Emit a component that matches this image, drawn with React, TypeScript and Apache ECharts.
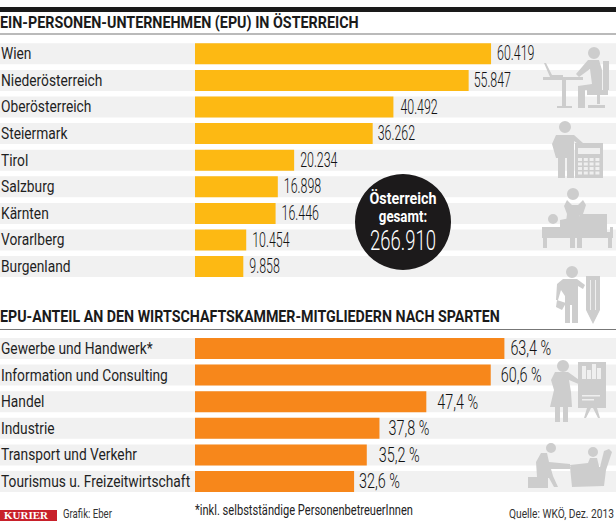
import React, { useEffect, useRef } from "react";
import * as echarts from "echarts";

const regions = ["Wien", "Niederösterreich", "Oberösterreich", "Steiermark", "Tirol", "Salzburg", "Kärnten", "Vorarlberg", "Burgenland"];
const regionValues = [60419, 55847, 40492, 36262, 20234, 16898, 16446, 10454, 9858];
const sectors = ["Gewerbe und Handwerk*", "Information und Consulting", "Handel", "Industrie", "Transport und Verkehr", "Tourismus u. Freizeitwirtschaft"];
const sectorValues = [63.4, 60.6, 47.4, 37.8, 35.2, 32.6];

const regionLabelGaps = [6, 5, 7, 5, 6, 6, 6, 6, 6];
const sectorLabelGaps = [6, 10, 11, 9, 12, 5];

const FONT = 'Roboto, "Liberation Sans", sans-serif';
const ICON = "#cdcdcd";
const LIGHT = "#efefef";

const circlePath = (cx: number, cy: number, r: number) =>
  `M${cx - r} ${cy}A${r} ${r} 0 1 1 ${cx + r} ${cy}A${r} ${r} 0 1 1 ${cx - r} ${cy}Z`;

const iconPaths: Record<string, string> = {
  iconDesk:
    circlePath(594, 53, 6) +
    "M588 60L599 60L602 70L602 90L585 90L585 108L578 108L578 86L592 84L590 69L579 77L576 74Z" +
    "M603 61L609 61L609 90L603 90Z M587 90L608 90L608 95L587 95Z M597 95L600 95L600 104L597 104Z M588 105L605 105L605 108L588 108Z" +
    "M543 77L583 77L583 80L543 80Z M562 80L566 80L566 106L562 106Z M557 106L572 106L572 108L557 108Z" +
    "M544 63L546 63L552 75L563 75L563 77L550 77Z",
  iconCalc:
    circlePath(565, 127, 6) +
    "M556 135L574 135L583 143L581 146L574 141L574 178L567 178L567 158L565 158L565 178L558 178L558 158L556 158L552 144Z" +
    "M575 143L603 143L603 178L575 178Z",
  iconBed:
    circlePath(573, 194, 6) +
    "M567 200L572 205L578 205L583 200L586 205L583 214L579 216L579 222L566 222L567 214L564 206Z" +
    circlePath(553, 219, 5) +
    "M560 220L580 216L580 227L560 227Z" +
    "M580 214L607 214L607 232L610 232L610 227L613 227L613 238L612 238L612 248L608 248L608 238L582 238L582 248L577 248L577 238L575 238L575 248L570 248L570 238L547 238L547 248L543 248L543 238L542 238L542 227L580 227Z",
  iconPencil:
    circlePath(572, 272, 6) +
    "M563 279L577 279L585 285L583 289L578 286L578 323L572 323L572 305L570 305L570 323L565 323L565 296L561 290L558 300L556 300L557 284Z" +
    "M557 300L566 303L562 310L556 307Z" +
    "M586 276L600 276L600 310L593 324L586 310Z",
  iconBoard:
    circlePath(563, 366, 6) +
    "M555 372L568 372L582 382L581 385L569 380L571 392L572 407L568 407L568 422L563 422L563 407L560 407L560 422L555 422L555 407L550 407L554 390L551 380Z" +
    "M578 362L606 362L606 408L597 408L600 418L598 418L593 408L591 408L586 418L584 418L587 408L578 408Z",
  iconTherapy:
    circlePath(551, 448, 5) +
    "M541 453L547 453L549 462L570 464L570 469L551 469L553 476L558 487L554 487L549 478L537 477L536 462Z" +
    "M528 477L548 477L548 488L528 488Z" +
    circlePath(593, 452, 5) +
    "M590 458L597 458L600 470L571 470L570 465L588 463Z" +
    "M570 467L600 467L604 451L609 449L612 452L606 470L604 486L572 487Z",
};
Object.entries(iconPaths).forEach(([name, d]) => {
  echarts.graphic.registerShape(name, echarts.graphic.extendPath(d as any, {} as any));
});

const lightRect = (x: number, y: number, width: number, height: number) => ({
  type: "rect", shape: { x, y, width, height }, style: { fill: LIGHT }, z: 6,
});

const iconGraphics: any[] = [
  ...Object.keys(iconPaths).map((type) => ({ type, x: 0, y: 0, style: { fill: ICON }, z: 5 })),
  lightRect(578, 148, 22, 6),
  ...[0, 1, 2, 3].flatMap((c) => [0, 1, 2, 3].map((r) => lightRect(578 + c * 5.8, 158 + r * 4.5, 4, 3))),
  lightRect(582, 366, 4, 13), lightRect(587, 370, 4, 9), lightRect(592, 364, 4, 15), lightRect(597, 368, 4, 11),
  lightRect(582, 395, 18, 1.5), lightRect(582, 399, 12, 1.5),
  lightRect(590, 280, 1, 30), lightRect(595, 280, 1, 30),
];

const pageText = (text: string, x: number, y: number, font: string, fill: string, scaleX: number, extra: any = {}) => ({
  type: "text", x, y, scaleX, z: 20, style: { text, font, fill, textVerticalAlign: "middle", ...extra },
});

const rule = (y: number, height: number, fill: string) => ({
  type: "rect", shape: { x: 0, y, width: 616, height }, style: { fill }, z: 4,
});

const axisPair = (names: string[], gridIndex: number, min: number, max: number) => ({
  x: { type: "value", gridIndex, min, max, show: false },
  y: {
    type: "category", gridIndex, data: names, inverse: true,
    axisLine: { show: false, onZero: false }, axisTick: { show: false }, splitLine: { show: false },
    axisLabel: { show: false },
  },
});

const barSeries = (values: number[], gridIndex: number, color: string) => ({
  type: "bar", xAxisIndex: gridIndex, yAxisIndex: gridIndex, data: values, barWidth: 21,
  itemStyle: { color },
  showBackground: true,
  backgroundStyle: { color: "#f1f1f1" },
});

// Narrow type does not exist among the fonts: texts are squeezed with scaleX.
const textSeries = (
  points: number[][], texts: string[], gridIndex: number, gaps: number[], font: string, fill: string, scaleX: number,
) => ({
  type: "custom", xAxisIndex: gridIndex, yAxisIndex: gridIndex, data: points, clip: false, z: 12,
  encode: { x: 0, y: 1 },
  renderItem: (params: any, api: any) => {
    const p = api.coord([api.value(0), api.value(1)]);
    return {
      type: "text", x: p[0] + gaps[params.dataIndex], y: p[1], scaleX,
      style: { text: texts[params.dataIndex], font, fill, textVerticalAlign: "middle" },
    };
  },
});

const fmtRegion = (v: number) => `${Math.floor(v / 1000)}.${String(v % 1000).padStart(3, "0")}`;
const fmtSector = (v: number) => `${v.toFixed(1).replace(".", ",")} %`;

const REGION_MIN = -39796;
const SECTOR_MIN = -39.96;
const CAT_FONT = `17px ${FONT}`;
const VAL_FONT = `300 20px ${FONT}`;

export default function App() {
  const ref = useRef<HTMLDivElement>(null);
  useEffect(() => {
    const chart = echarts.init(ref.current!, null, { renderer: "svg" });
    const a = axisPair(regions, 0, REGION_MIN, 85918);
    const b = axisPair(sectors, 1, SECTOR_MIN, 86.27);
    chart.setOption({
      animation: false,
      backgroundColor: "#ffffff",
      grid: [
        { left: 0, right: 0, top: 40.5, height: 239.4 },
        { left: 0, right: 0, top: 335.2, height: 159.6 },
      ],
      xAxis: [a.x, b.x],
      yAxis: [a.y, b.y],
      series: [
        barSeries(regionValues, 0, "#fdb913"),
        barSeries(sectorValues, 1, "#f7871b"),
        textSeries(regions.map((_, i) => [REGION_MIN, i]), regions, 0, regions.map(() => 1), CAT_FONT, "#1f1f1f", 0.81),
        textSeries(sectors.map((_, i) => [SECTOR_MIN, i]), sectors, 1, sectors.map(() => 1), CAT_FONT, "#1f1f1f", 0.81),
        textSeries(regionValues.map((v, i) => [v, i]), regionValues.map(fmtRegion), 0, regionLabelGaps, VAL_FONT, "#111111", 0.62),
        textSeries(sectorValues.map((v, i) => [v, i]), sectorValues.map(fmtSector), 1, sectorLabelGaps, VAL_FONT, "#111111", 0.72),
      ],
      graphic: [
        rule(7, 5, "#1a1a1a"),
        rule(33.5, 1, "#777777"),
        rule(329, 1, "#777777"),
        ...iconGraphics,
        pageText("EIN-PERSONEN-UNTERNEHMEN (EPU) IN ÖSTERREICH", 0, 23, `bold 16px ${FONT}`, "#1a1a1a", 0.895),
        pageText("EPU-ANTEIL AN DEN WIRTSCHAFTSKAMMER-MITGLIEDERN NACH SPARTEN", 0, 317, `bold 16px ${FONT}`, "#1a1a1a", 0.89),
        { type: "circle", shape: { cx: 403, cy: 222, r: 48 }, style: { fill: "#1c1a1b" }, z: 15 },
        pageText("Österreich", 403, 198, `bold 17px ${FONT}`, "#ffffff", 0.84, { textAlign: "center" }),
        pageText("gesamt:", 403, 216, `bold 17px ${FONT}`, "#ffffff", 0.78, { textAlign: "center" }),
        pageText("266.910", 403, 241, `300 28px ${FONT}`, "#ffffff", 0.66, { textAlign: "center" }),
        { type: "rect", shape: { x: 0, y: 510, width: 57, height: 11 }, style: { fill: "#c8202a" }, z: 15 },
        pageText("KURIER", 4, 515, 'bold 11px "Liberation Serif", serif', "#ffffff", 1, { letterSpacing: 3 }),
        pageText("Grafik: Eber", 63, 514, `12px ${FONT}`, "#333333", 0.8),
        pageText("*inkl. selbstständige PersonenbetreuerInnen", 195, 510, `15px ${FONT}`, "#222222", 0.74),
        pageText("Quelle: WKÖ, Dez. 2013", 509, 514.5, `12px ${FONT}`, "#333333", 0.85),
      ],
    });
    return () => chart.dispose();
  }, []);
  return <div ref={ref} style={{ position: "fixed", left: 0, top: 0, width: 616, height: 521 }} />;
}
